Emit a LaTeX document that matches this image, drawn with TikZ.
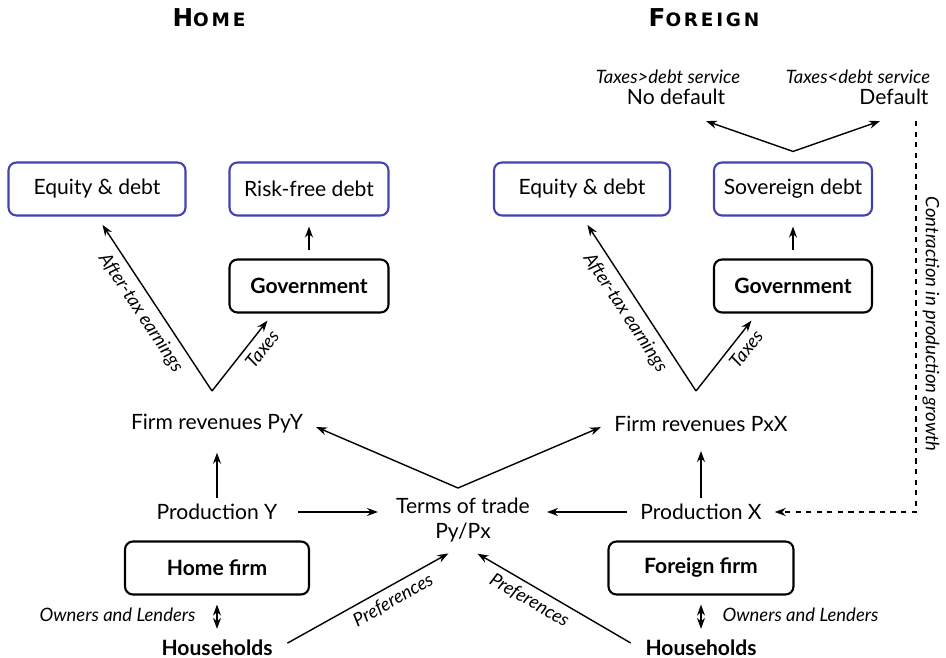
\documentclass[tikz,border=0pt]{standalone}
\usepackage{fontspec}
\setmainfont{Lato}
\newfontfamily\headfont[LetterSpace=15]{DejaVu Sans}
\usetikzlibrary{arrows.meta,positioning,calc}
\definecolor{boxblue}{RGB}{66,66,178}

\begin{document}
\begin{tikzpicture}[
            x=0.2mm,y=-0.2mm,
            every node/.style={on grid},
            txt/.style={font=\fontsize{12}{14}\selectfont},
            who/.style={font=\bfseries\fontsize{12}{14}\selectfont},
            note/.style={font=\itshape\fontsize{10.5}{12}\selectfont},
            head/.style={font=\headfont\bfseries\fontsize{14}{16}\selectfont},
            agent/.style={who,draw,line width=1.2pt,rounded corners=1.6mm,minimum height=10.6mm},
            asset/.style={txt,draw=boxblue,line width=1.2pt,rounded corners=1.6mm,minimum height=10.6mm},
            flow/.style={->,line width=0.8pt},
            >={Stealth[length=2.2mm,width=1.6mm]}
        ]
        \useasboundingbox (0,0) rectangle (946,658);

        % Headings %
        \node[head] (homeT) at (209,18) {H{\fontsize{10.5}{12}\selectfont OME}};
        \node[head] (forT) at (704,18) {F{\fontsize{10.5}{12}\selectfont OREIGN}};

        % Draw home side %
        \node[txt] (firmH) at (217,424) {Firm revenues PyY};
        \node[txt,below=17.6mm of firmH] (prodH) {Production Y};
        \node[agent,minimum width=36.8mm,below=11.2mm of prodH] (hfirmH) {Home firm};
        \node[who,below=16mm of hfirmH] (hhH) {Households};
        \node[agent,minimum width=31.8mm] (govH) at (309,286) {Government};
        \node[asset,minimum width=31.8mm,above=19.4mm of govH] (rfH) {Risk-free debt};
        \node[asset,minimum width=35.4mm,left=42.4mm of rfH] (eqH) {Equity \& debt};
        \coordinate (splitH) at (212,391);

        % Draw foreign side %
        \node[txt] (firmX) at (701,424) {Firm revenues PxX};
        \node[txt,below=17.6mm of firmX] (prodX) {Production X};
        \node[agent,minimum width=37mm,below=11.2mm of prodX] (ffirmX) {Foreign firm};
        \node[who,below=16mm of ffirmX] (hhX) {Households};
        \node[agent,minimum width=31.6mm] (govX) at (793,286) {Government};
        \node[asset,minimum width=31.6mm,above=19.4mm of govX] (sovX) {Sovereign debt};
        \node[asset,minimum width=35.2mm,left=42.2mm of sovX] (eqX) {Equity \& debt};
        \coordinate (splitX) at (696,391);
        \coordinate (splitS) at ([yshift=2mm]sovX.north);

        % Default outcomes %
        \node[txt] (nodef) at (676,97) {No default};
        \node[note] (nodefT) at (668,77) {Taxes>debt service};
        \node[txt] (def) at (894,97) {Default};
        \node[note] (defT) at (858,77) {Taxes<debt service};

        % Terms of trade %
        \node[txt,align=center] (tot) at (463,520) {Terms of trade\\Py/Px};
        \coordinate (splitT) at (458,488);

        % Draw arrows %
        \draw[flow,shorten >=2.6mm] (prodH) -- (firmH);
        \draw[flow,shorten >=2.6mm] (prodX) -- (firmX);
        \draw[flow,shorten <=1.6mm,shorten >=2mm] (govH) -- (rfH);
        \draw[flow,shorten <=1.6mm,shorten >=2mm] (govX) -- (sovX);
        \draw[flow,shorten >=2mm] (splitH) -- node[note,sloped,below=1pt] {After-tax earnings} (eqH.south);
        \draw[flow,shorten >=1.8mm] (splitH) -- node[note,pos=0.65,sloped,below] {Taxes} ([xshift=-7.2mm]govH.south);
        \draw[flow,shorten >=2mm] (splitX) -- node[note,sloped,below=1pt] {After-tax earnings} (eqX.south);
        \draw[flow,shorten >=1.8mm] (splitX) -- node[note,pos=0.65,sloped,below] {Taxes} ([xshift=-7.2mm]govX.south);
        \draw[flow,shorten >=1.5mm] (splitT) -- (firmH.east);
        \draw[flow,shorten >=1.6mm] (splitT) -- (firmX.west);
        \draw[flow,shorten <=3mm,shorten >=2.4mm] (prodH.east) -- (tot.west |- prodH.east);
        \draw[flow,shorten <=1.4mm,shorten >=2.2mm] (prodX.west) -- (tot.east |- prodX.west);
        \draw[flow] (splitS) -- ([shift={(30,10)}]nodef.south);
        \draw[flow] (splitS) -- ([shift={(-14,10)}]def.south);
        \draw[flow,dashed,shorten >=1.4mm] ([shift={(22,10)}]def.south) |- node[note,pos=0.26,rotate=-90,anchor=south] {Contraction in production growth} (prodX.east);

        % Households %
        \draw[<->,line width=0.8pt,shorten <=1mm,shorten >=1.8mm] (hhH.north) -- node[note,left=3mm] {Owners and Lenders} (hhH.north |- hfirmH.south);
        \draw[<->,line width=0.8pt,shorten <=1mm,shorten >=1.8mm] (hhX.north) -- node[note,right=3mm] {Owners and Lenders} (hhX.north |- ffirmX.south);
        \draw[flow,shorten <=2mm,shorten >=2.2mm] (hhH.east) -- node[note,pos=0.6,sloped,below] {Preferences} ([xshift=-1mm]tot.south);
        \draw[flow,shorten <=2mm,shorten >=2.2mm] (hhX.west) -- node[note,pos=0.6,sloped,below] {Preferences} ([xshift=1mm]tot.south);
        \end{tikzpicture}
\end{document}
